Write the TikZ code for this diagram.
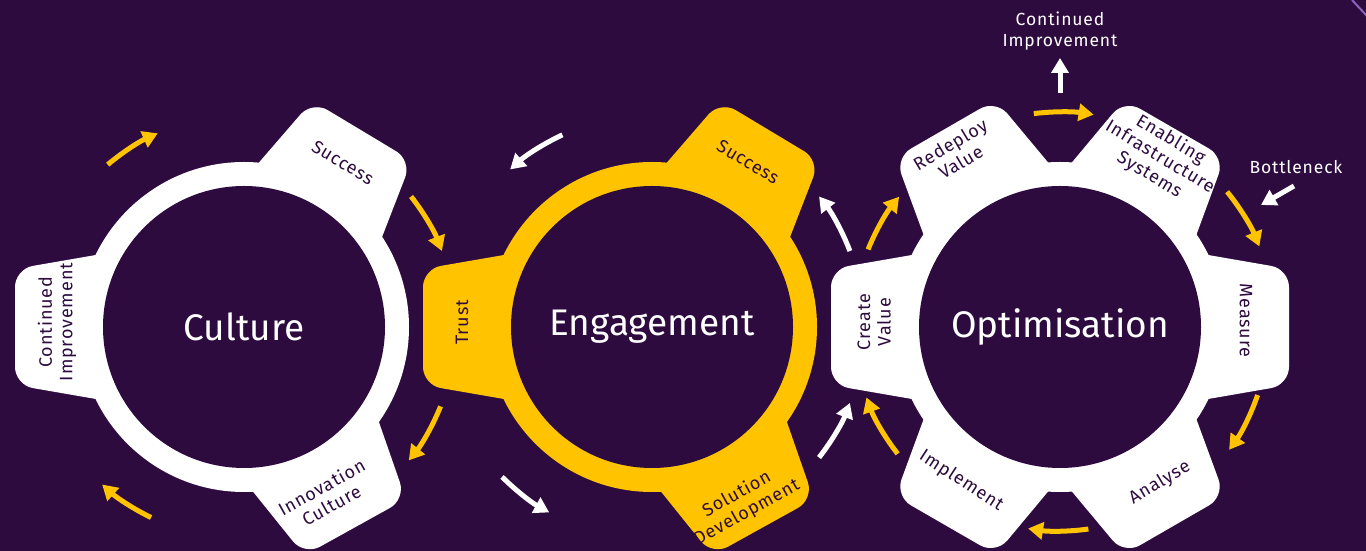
\documentclass[tikz,border=0pt]{standalone}
\usepackage{fontspec}
\setmainfont{Fira Sans}
\newfontfamily\lblfont[LetterSpace=5]{Fira Sans}
\usetikzlibrary{arrows.meta}
\definecolor{bg}{HTML}{2E0B3E}
\definecolor{gold}{HTML}{FFC300}
\definecolor{lav}{HTML}{8A63C0}
\newcommand\drawgear[2]{%
  \foreach \a in {#2}{\fill[#1, rounded corners=18pt, rotate=\a] (125,-76) -- (229,-58) -- (229,58) -- (125,76) -- cycle;}
  \fill[#1] (0,0) circle (165);
  \fill[bg] (0,0) circle (141);
}
\begin{document}
\begin{tikzpicture}[x=1pt,y=1pt,
  lbl/.style={text=bg, font=\lblfont\fontsize{18}{20.5}\selectfont, align=center, inner sep=0pt},
  big/.style={text=white, font=\fontsize{37}{40}\selectfont, inner sep=0pt},
  note/.style={text=white, font=\lblfont\fontsize{17.5}{21}\selectfont, align=center, inner sep=0pt},
  arr/.style={line width=5pt, -{Triangle[length=15pt,width=17pt]}},
]
\fill[bg] (0,0) rectangle (1366,551);
\useasboundingbox (0,0) rectangle (1366,551);
\draw[lav, line width=2pt] (1352,551) -- (1367,535);

% Culture
\begin{scope}[shift={(244,224)}]
  \drawgear{white}{59,180,-61}
  \node[big] (cult) at (0,0) {Culture};
  \node[lbl, rotate=-31] (cult-succ) at (59:192) {Success};
  \node[lbl, rotate=90] (cult-ci) at (178.5:187) {Continued\\Improvement};
  \node[lbl, rotate=29] (cult-ic) at (-64:188) {Innovation\\Culture};
  \draw[arr, gold] (130:212) arc[start angle=130, end angle=114, radius=212];
  \draw[arr, gold] (38:212) arc[start angle=38, end angle=21, radius=212];
  \draw[arr, gold] (-22:212) arc[start angle=-22, end angle=-39, radius=212];
  \draw[arr, gold] (-116:212) arc[start angle=-116, end angle=-132, radius=212];
\end{scope}

% Engagement
\begin{scope}[shift={(652,224)}]
  \drawgear{gold}{59,180,-61}
  \node[big] (eng) at (0,0) {Engagement};
  \node[lbl, rotate=-31] (eng-succ) at (59.8:191) {Success};
  \node[lbl, rotate=90] (eng-trust) at (178.6:190) {Trust};
  \node[lbl, rotate=29] (eng-sd) at (-63:198) {Solution\\Development};
  \draw[arr, white] (115:212) arc[start angle=115, end angle=132, radius=212];
  \draw[arr, white] (-135:212) arc[start angle=-135, end angle=-119, radius=212];
  \draw[arr, white] (-38:212) arc[start angle=-38, end angle=-21, radius=212];
  \draw[arr, white] (21:212) arc[start angle=21, end angle=38, radius=212];
\end{scope}

% Optimisation
\begin{scope}[shift={(1060,224)}]
  \drawgear{white}{0,60,120,180,240,300}
  \node[big] (opt) at (0,0) {Optimisation};
  \node[lbl, rotate=31] (opt-rv) at (121:203) {Redeploy\\Value};
  \node[lbl, rotate=-31] (opt-eis) at (59.5:197) {Enabling\\Infrastructure\\Systems};
  \node[lbl, rotate=-90] (opt-meas) at (2:186) {Measure};
  \node[lbl, rotate=31] (opt-an) at (-57.3:185) {Analyse};
  \node[lbl, rotate=-33] (opt-imp) at (-122.7:183) {Implement};
  \node[lbl, rotate=90] (opt-cv) at (178.5:186) {Create\\Value};
  \draw[arr, gold] (97:215) arc[start angle=97, end angle=81, radius=215];
  \draw[arr, gold] (39:215) arc[start angle=39, end angle=22, radius=215];
  \draw[arr, gold] (-19:209) arc[start angle=-19, end angle=-36, radius=209];
  \draw[arr, gold] (-82:204) arc[start angle=-82, end angle=-99, radius=204];
  \draw[arr, gold] (-142:206) arc[start angle=-142, end angle=-160, radius=206];
  \draw[arr, gold] (158:207) arc[start angle=158, end angle=141, radius=207];
\end{scope}

% notes
\node[note] (ci-top) at (1060,520) {Continued\\Improvement};
\coordinate (up-start) at (1060,458);
\draw[arr, white] (up-start) -- (ci-top.south |- 0,493);
\node[note] (bottle) at (1296,384) {Bottleneck};
\coordinate (bn-start) at (1294,365);
\coordinate (bn-end) at (1261,346);
\draw[arr, white] (bn-start) -- (bn-end);
\end{tikzpicture}
\end{document}
